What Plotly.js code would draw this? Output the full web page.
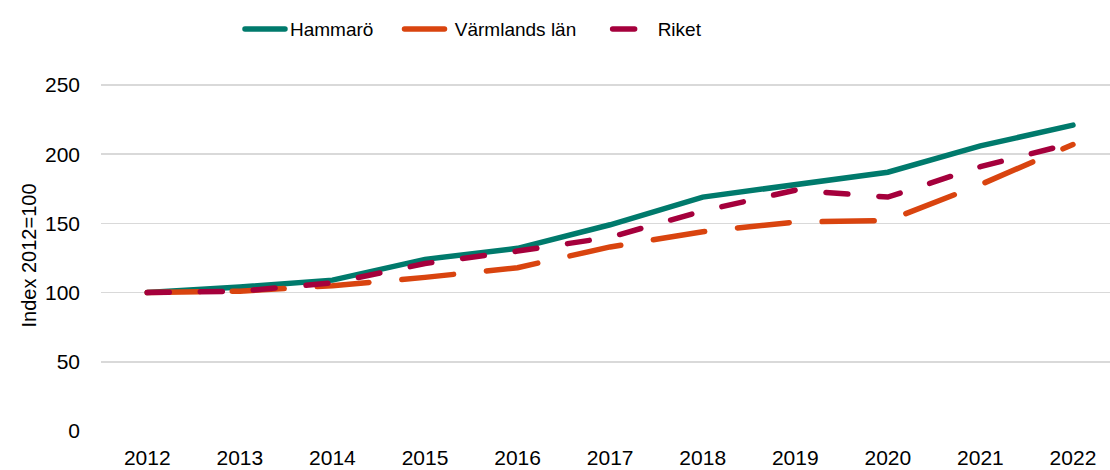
<!DOCTYPE html>
<html>
<head>
<meta charset="utf-8">
<script src="https://cdn.plot.ly/plotly-3.0.1.min.js"></script>
<style>
html,body{margin:0;padding:0;background:#fff;}
#chart{width:1110px;height:470px;}
.js-line{stroke-linecap:round !important;}
</style>
</head>
<body>
<div id="chart"></div>
<script>
const years = ['2012','2013','2014','2015','2016','2017','2018','2019','2020','2021','2022'];
const seriesNames = ['Hammarö', 'Värmlands län', 'Riket'];
const hammaro = [100, 104, 109, 124, 132, 149, 169, 178, 187, 206, 221];
const varmland = [100, 101, 105, 111, 118, 133, 144, 151, 152, 178, 207];
const riket = [100, 101, 107, 121, 130, 140, 159, 174, 169, 191, 208];

const nb = '\u00a0';
const traces = [
  {x: years, y: hammaro, name: seriesNames[0] + nb.repeat(4), type: 'scatter', mode: 'lines',
   line: {color: '#007A6C', width: 5.5}},
  {x: years, y: varmland, name: nb + seriesNames[1] + nb.repeat(5), type: 'scatter', mode: 'lines',
   line: {color: '#D9440F', width: 5.5, dash: '52px,33px'}},
  {x: years, y: riket, name: seriesNames[2], type: 'scatter', mode: 'lines',
   line: {color: '#A5003C', width: 5.5, dash: '22px,31px'}}
];

const layout = {
  width: 1110, height: 470,
  margin: {l: 101, r: 0, t: 80, b: 39},
  paper_bgcolor: '#fff', plot_bgcolor: '#fff',
  font: {family: 'Liberation Sans, Arial, sans-serif', color: '#000', size: 20},
  showlegend: true,
  legend: {orientation: 'h', x: 0.2162, xanchor: 'left', xref: 'container',
           y: 0.938, yanchor: 'middle', yref: 'container',
           font: {size: 19}, traceorder: 'normal', itemwidth: 40},
  xaxis: {type: 'category', range: [-0.5, 10.4], showgrid: false, zeroline: false,
          showline: false, ticks: '', tickfont: {size: 21}, ticklabelstandoff: 12},
  yaxis: {range: [0, 253.6], tickvals: [0, 50, 100, 150, 200, 250], showgrid: true,
          gridcolor: '#d9d9d9', gridwidth: 1.5, zeroline: false, showline: false,
          ticks: '', tickfont: {size: 21}, ticklabelstandoff: 20,
          title: {text: 'Index 2012=100', font: {size: 20}, standoff: 2}}
};
Plotly.newPlot('chart', traces, layout, {displayModeBar: false, staticPlot: true});
</script>
</body>
</html>
